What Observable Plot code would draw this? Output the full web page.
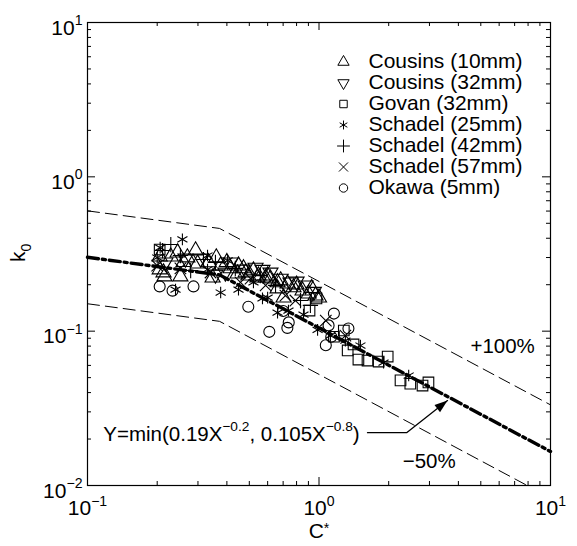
<!DOCTYPE html>
<html><head><meta charset="utf-8">
<script src="https://cdn.jsdelivr.net/npm/d3@7"></script>
<script src="https://cdn.jsdelivr.net/npm/@observablehq/plot@0.6"></script>
<style>
html,body{margin:0;padding:0;background:#fff;}
#chart{width:577px;height:546px;}
</style></head><body><div id="chart"></div>
<script>
// ---------- data ----------
const xMajor = [0.1, 1, 10];
const xMinor = [0.2,0.3,0.4,0.5,0.6,0.7,0.8,0.9,2,3,4,5,6,7,8,9];
const yMajor = [0.01, 0.1, 1, 10];
const yMinor = [0.02,0.03,0.04,0.05,0.06,0.07,0.08,0.09,0.2,0.3,0.4,0.5,0.6,0.7,0.8,0.9,2,3,4,5,6,7,8,9];

const seriesNames = ["Cousins (10mm)","Cousins (32mm)","Govan (32mm)","Schadel (25mm)","Schadel (42mm)","Schadel (57mm)","Okawa (5mm)"];

const cousins10 = [[0.205,0.251],[0.215,0.226],[0.229,0.304],[0.245,0.323],[0.252,0.226],[0.270,0.300],[0.299,0.274],[0.334,0.279],[0.347,0.222],[0.376,0.266],[0.415,0.255],[0.445,0.236],[0.472,0.255],[0.495,0.229],[0.521,0.247],[0.548,0.229],[0.588,0.222],[0.617,0.219],[0.662,0.207],[0.449,0.266],[0.482,0.240],[0.542,0.222],[0.600,0.229],[0.683,0.213],[0.731,0.203],[0.776,0.192],[0.849,0.183],[0.902,0.175],[0.966,0.170],[0.703,0.165],[0.662,0.189],[0.205,0.304],[0.293,0.333],[0.213,0.240],[0.260,0.280],[0.360,0.300],[0.400,0.280],[0.800,0.200],[0.930,0.190],[1.00,0.165]];
const cousins32 = [[0.217,0.279],[0.357,0.233],[0.468,0.251],[0.532,0.258],[0.308,0.296],[0.415,0.279],[0.617,0.240],[0.753,0.207],[0.875,0.198],[0.265,0.296],[0.394,0.240],[0.683,0.219],[0.570,0.250],[0.800,0.210],[0.950,0.180]];
const govan32 = [[0.205,0.338],[0.91,0.136],[0.975,0.163],[1.16,0.092],[1.28,0.101],[1.33,0.075],[1.41,0.082],[1.48,0.0655],[1.62,0.0645],[1.81,0.0635],[1.98,0.0685],[2.25,0.048],[2.48,0.0457],[2.80,0.0444],[2.97,0.0465]];
const schadel25 = [[0.257,0.393],[0.206,0.348],[0.200,0.300],[0.330,0.309],[0.403,0.287],[0.376,0.178],[0.449,0.186],[0.240,0.186],[0.330,0.251],[0.521,0.207],[0.600,0.165],[0.662,0.132],[0.738,0.136],[0.857,0.128],[0.986,0.102],[1.12,0.0935],[0.570,0.163],[1.90,0.0626],[2.44,0.0516],[1.30,0.0869],[1.51,0.0807]];
const schadel42 = [[0.229,0.364],[0.211,0.333],[0.317,0.291],[0.357,0.279],[0.279,0.247],[0.435,0.255],[0.558,0.229],[0.649,0.198],[0.832,0.158],[0.918,0.147],[0.252,0.309]];
const schadel57 = [[0.200,0.266],[0.458,0.207],[0.252,0.255],[0.340,0.240],[0.506,0.219],[0.588,0.198],[0.716,0.170],[0.791,0.158],[1.07,0.117],[1.30,0.0935]];
const okawa5 = [[0.205,0.195],[0.233,0.183],[0.287,0.195],[0.495,0.144],[0.61,0.099],[0.74,0.114],[0.73,0.105],[1.16,0.13],[1.10,0.109],[1.07,0.081],[1.13,0.092],[1.34,0.104],[0.70,0.135]];

// fitted line Y=min(0.19X^-0.2, 0.105X^-0.8) and +100% / -50% bands (vertices)
const fitX = [0.1, 0.372, 10];
const fitY = [0.301, 0.2316, 0.0166];
const upperY = [0.602, 0.463, 0.0333];
const lowerX = [0.1, 0.372, 7.93];
const lowerY = [0.1505, 0.1158, 0.01];

// annotations
const formulaLabel = "Y=min(0.19X^{\u22120.2}, 0.105X^{\u22120.8})";
const formulaAt = [0.117, 0.0195];
const arrowX = [1.62, 2.39, 3.59];
const arrowY = [0.022, 0.022, 0.0355];
const pctLabels = ["+100%", "\u221250%"];
const pctX = [4.51, 2.30];
const pctY = [0.0726, 0.0129];
const xLabel = "C^{*}";
const yLabel = "k_{0}";

// ---------- layout ----------
const W = 577, H = 546, ML = 87, MR = 27, MT = 22, MB = 61;
const innerW = W - ML - MR, innerH = H - MT - MB;
const FONT = "'Liberation Sans', Arial, Helvetica, sans-serif";
const xDomain = [0.1, 10], yDomain = [0.01, 10];

const triDown = {draw(ctx, size) {
  const s3 = Math.sqrt(3);
  const y = -Math.sqrt(size / (s3 * 3));
  ctx.moveTo(0, -y * 2);
  ctx.lineTo(-s3 * y, y);
  ctx.lineTo(s3 * y, y);
  ctx.closePath();
}};
// arrowhead whose tip sits at the dot position, pointing up before rotation
const arrowHead = {draw(ctx) {
  ctx.moveTo(0, 0);
  ctx.lineTo(-4.5, 13);
  ctx.lineTo(4.5, 13);
  ctx.closePath();
}};
const seriesData = [cousins10, cousins32, govan32, schadel25, schadel42, schadel57, okawa5];
const seriesSymbols = ["triangle", triDown, "square", "asterisk", "plus", "times", "circle"];
const seriesR = [5.6, 5.6, 6, 5.5, 5, 5.3, 5.5];

const expFmt = e => e < 0 ? "\u2212" + (-e) : String(e);
const powLabel = d => "10^{" + expFmt(Math.round(Math.log10(d))) + "}";

const fitRows = fitX.map((x, i) => ({x, y: fitY[i], u: upperY[i]}));
const lowRows = lowerX.map((x, i) => ({x, y: lowerY[i]}));
const arrowRows = arrowX.map((x, i) => ({x, y: arrowY[i]}));
const pctRows = pctLabels.map((t, i) => ({t, x: pctX[i], y: pctY[i]}));

// screen direction of the last arrow segment, using Plot's own scales
const sx = Plot.scale({x: {type: "log", domain: xDomain, range: [ML, W - MR]}});
const sy = Plot.scale({y: {type: "log", domain: yDomain, range: [H - MB, MT]}});
const n = arrowX.length;
const adx = sx.apply(arrowX[n - 1]) - sx.apply(arrowX[n - 2]);
const ady = sy.apply(arrowY[n - 1]) - sy.apply(arrowY[n - 2]);
const arrowAngle = Math.atan2(adx, -ady) * 180 / Math.PI;

const marks = [
  // ticks inward on all four sides
  Plot.ruleX(xMajor, {x: d => d, insetTop: innerH - 8, stroke: "#000"}),
  Plot.ruleX(xMajor, {x: d => d, insetBottom: innerH - 8, stroke: "#000"}),
  Plot.ruleX(xMinor, {x: d => d, insetTop: innerH - 4, stroke: "#000"}),
  Plot.ruleX(xMinor, {x: d => d, insetBottom: innerH - 4, stroke: "#000"}),
  Plot.ruleY(yMajor, {y: d => d, insetRight: innerW - 8, stroke: "#000"}),
  Plot.ruleY(yMajor, {y: d => d, insetLeft: innerW - 8, stroke: "#000"}),
  Plot.ruleY(yMinor, {y: d => d, insetRight: innerW - 4, stroke: "#000"}),
  Plot.ruleY(yMinor, {y: d => d, insetLeft: innerW - 4, stroke: "#000"}),
  // bands
  Plot.line(fitRows, {x: "x", y: "u", stroke: "#000", strokeWidth: 1, strokeDasharray: "12,6"}),
  Plot.line(lowRows, {x: "x", y: "y", stroke: "#000", strokeWidth: 1, strokeDasharray: "12,6", clip: true}),
  // scatter
  ...seriesData.map((data, i) => Plot.dot(data, {x: d => d[0], y: d => d[1], symbol: seriesSymbols[i], r: seriesR[i], stroke: "#000", strokeWidth: 1.1, fill: "none"})),
  // fit line
  Plot.line(fitRows, {x: "x", y: "y", stroke: "#000", strokeWidth: 3.4, strokeDasharray: "11,4,3,4"}),
  // arrow annotation
  Plot.line(arrowRows, {x: "x", y: "y", stroke: "#000", strokeWidth: 1.3}),
  Plot.dot([arrowRows[n - 1]], {x: "x", y: "y", symbol: arrowHead, r: 5, fill: "#000", stroke: "none", rotate: arrowAngle}),
  Plot.text([formulaLabel], {x: () => formulaAt[0], y: () => formulaAt[1], text: d => d, textAnchor: "start", fontSize: 20.5, dy: -6.6}),
  Plot.text(pctRows, {x: "x", y: "y", text: "t", textAnchor: "start", fontSize: 20.5, dy: -6.6}),
  // tick labels
  Plot.text(xMajor, {x: d => d, frameAnchor: "bottom", text: powLabel, lineAnchor: "top", dy: 15, fontSize: 21}),
  Plot.text(yMajor, {y: d => d, frameAnchor: "left", text: powLabel, textAnchor: "end", lineAnchor: "middle", dx: -5, dy: 5.3, fontSize: 21}),
  // axis labels
  Plot.text([xLabel], {frameAnchor: "bottom", text: d => d, lineAnchor: "middle", dy: 46, fontSize: 21}),
  Plot.text([yLabel], {frameAnchor: "left", text: d => d, rotate: -90, lineAnchor: "middle", dx: -69, dy: 8, fontSize: 21}),
  // legend
  ...seriesNames.map((nm, i) => Plot.dot([nm], {frameAnchor: "top-left", dx: 256, dy: 39.5 + 21 * i, symbol: seriesSymbols[i], r: 4.2, stroke: "#000", strokeWidth: 1, fill: "none"})),
  Plot.text([seriesNames.join("\n")], {frameAnchor: "top-left", text: d => d, dx: 281, dy: 31, lineAnchor: "top", lineHeight: 1, textAnchor: "start", fontSize: 21}),
  Plot.frame({stroke: "#000", strokeWidth: 1.2})
];

const plot = Plot.plot({
  width: W, height: H,
  marginLeft: ML, marginRight: MR, marginTop: MT, marginBottom: MB,
  x: {type: "log", domain: xDomain, axis: null},
  y: {type: "log", domain: yDomain, axis: null},
  style: {fontFamily: FONT, background: "#fff", color: "#000", overflow: "visible"},
  marks
});
document.getElementById("chart").appendChild(plot);

// ---------- rich text: ^{...} superscripts and _{...} subscripts ----------
function richify(el) {
  let target = el;
  if (el.childElementCount === 1 && el.firstElementChild.tagName.toLowerCase() === "tspan") target = el.firstElementChild;
  const s = target.textContent;
  if (!/[\^_]\{/.test(s)) return;
  const fs = parseFloat(getComputedStyle(el).fontSize) || 20;
  while (target.firstChild) target.removeChild(target.firstChild);
  const parts = s.split(/([\^_]\{[^}]*\})/).filter(p => p !== "");
  let shift = 0;
  for (const p of parts) {
    const t = document.createElementNS("http://www.w3.org/2000/svg", "tspan");
    let want = 0, size = null, txt = p;
    if (p.startsWith("^{")) {
      txt = p.slice(2, -1);
      // an asterisk already sits high in the glyph box: shift it less
      want = txt === "*" ? -0.24 * fs : -0.45 * fs;
      size = 0.67 * fs;
    } else if (p.startsWith("_{")) { want = 0.28 * fs; size = 0.67 * fs; txt = p.slice(2, -1); }
    const dy = want - shift;
    if (dy) t.setAttribute("dy", dy.toFixed(2));
    if (size) t.setAttribute("font-size", size.toFixed(1));
    t.textContent = txt;
    target.appendChild(t);
    shift = want;
  }
}
plot.querySelectorAll("text").forEach(richify);
</script></body></html>
